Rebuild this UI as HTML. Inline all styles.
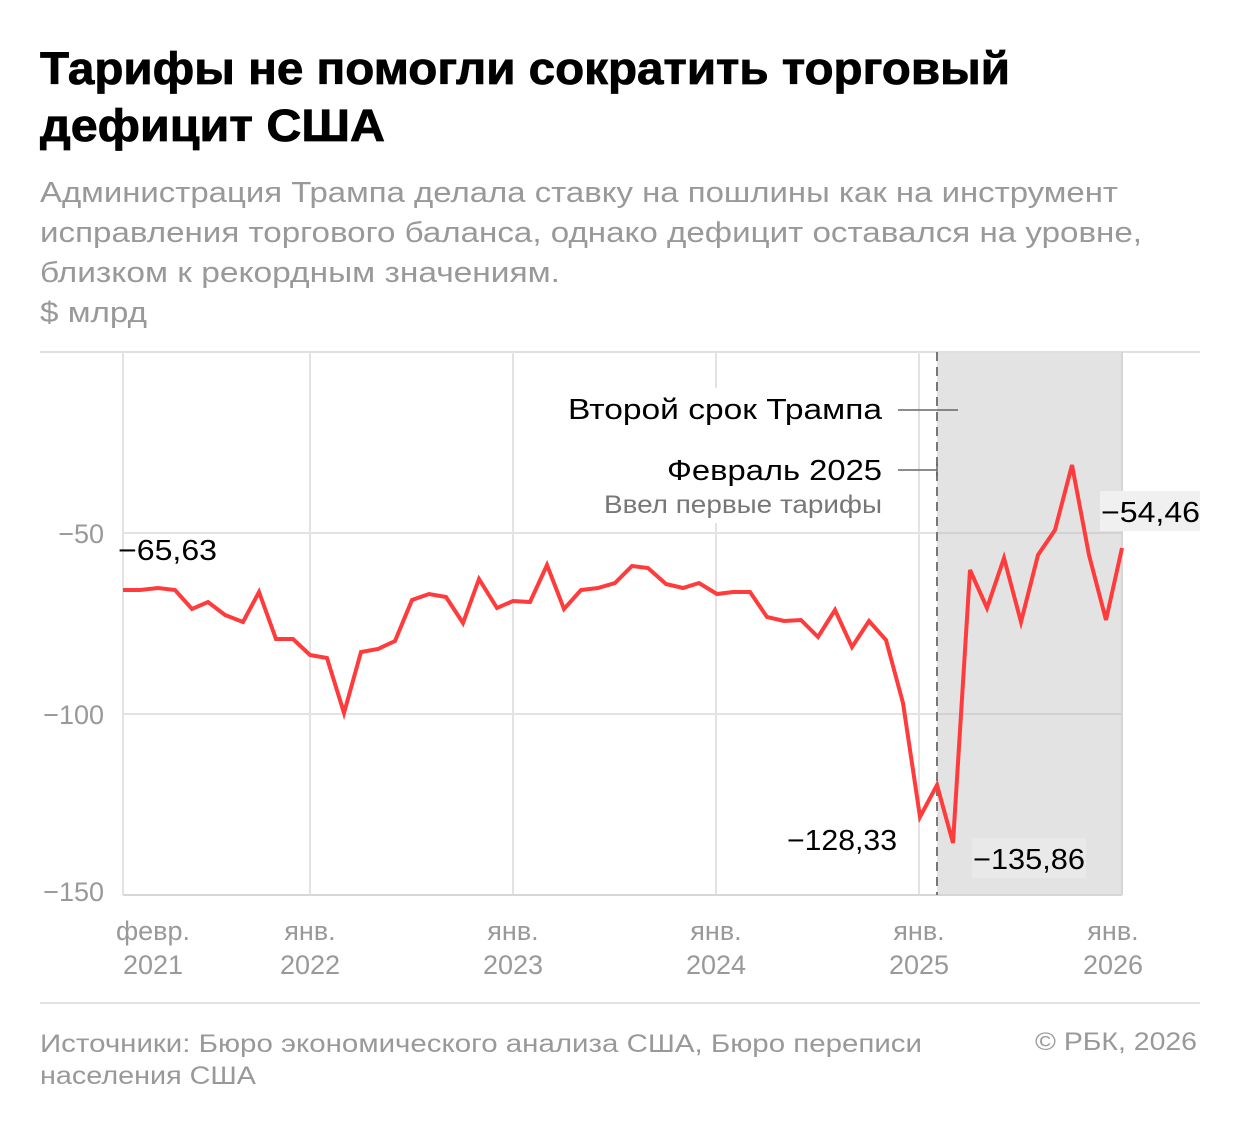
<!DOCTYPE html>
<html><head><meta charset="utf-8"><style>
html,body{margin:0;padding:0;background:#fff;}
svg{display:block;font-family:"Liberation Sans","DejaVu Sans",sans-serif;}
</style></head><body>
<svg width="1240" height="1132" viewBox="0 0 1240 1132" xmlns="http://www.w3.org/2000/svg">
<g font-size="45" font-weight="bold" fill="#000" stroke="#000" stroke-width="0.8" lengthAdjust="spacingAndGlyphs">
<text x="40" y="84" textLength="970" lengthAdjust="spacingAndGlyphs">Тарифы не помогли сократить торговый</text>
<text x="40" y="141" textLength="345" lengthAdjust="spacingAndGlyphs">дефицит США</text>
</g>
<g font-size="29" fill="#999">
<text x="40" y="202" textLength="1078" lengthAdjust="spacingAndGlyphs">Администрация Трампа делала ставку на пошлины как на инструмент</text>
<text x="40" y="242" textLength="1102" lengthAdjust="spacingAndGlyphs">исправления торгового баланса, однако дефицит оставался на уровне,</text>
<text x="40" y="282" textLength="520" lengthAdjust="spacingAndGlyphs">близком к рекордным значениям.</text>
<text x="40" y="322" textLength="107" lengthAdjust="spacingAndGlyphs">$ млрд</text>
</g>
<rect x="937" y="352" width="185" height="543" fill="#e3e3e3"/>
<line x1="40" y1="352" x2="1200" y2="352" stroke="#e0e0e0" stroke-width="2"/>
<g stroke="#e3e3e3" stroke-width="2">
<line x1="123" y1="352" x2="123" y2="895"/>
<line x1="310" y1="352" x2="310" y2="895"/>
<line x1="513" y1="352" x2="513" y2="895"/>
<line x1="716" y1="352" x2="716" y2="895"/>
<line x1="919" y1="352" x2="919" y2="895"/>
<line x1="1122" y1="352" x2="1122" y2="895" stroke="#d6d6d6"/>
<line x1="123" y1="533" x2="1122" y2="533"/>
<line x1="123" y1="714" x2="1122" y2="714"/>
</g>
<line x1="937" y1="533" x2="1122" y2="533" stroke="#d2d2d2" stroke-width="2"/>
<line x1="937" y1="714" x2="1122" y2="714" stroke="#d2d2d2" stroke-width="2"/>
<line x1="123" y1="895" x2="1122" y2="895" stroke="#d6d6d6" stroke-width="2"/>
<line x1="937" y1="352" x2="937" y2="895" stroke="#777" stroke-width="2" stroke-dasharray="9,6"/>
<g font-size="27" fill="#999" text-anchor="end">
<text x="104" y="543">−50</text>
<text x="104" y="724">−100</text>
<text x="104" y="901">−150</text>
</g>
<g font-size="27" fill="#999" text-anchor="middle">
<text x="153" y="940">февр.</text><text x="153" y="974">2021</text>
<text x="310" y="940">янв.</text><text x="310" y="974">2022</text>
<text x="513" y="940">янв.</text><text x="513" y="974">2023</text>
<text x="716" y="940">янв.</text><text x="716" y="974">2024</text>
<text x="919" y="940">янв.</text><text x="919" y="974">2025</text>
<text x="1113" y="940">янв.</text><text x="1113" y="974">2026</text>
</g>
<rect x="560" y="388" width="330" height="135" fill="#fff"/>
<g font-size="29" fill="#000">
<text x="568" y="419" textLength="314" lengthAdjust="spacingAndGlyphs">Второй срок Трампа</text>
<text x="667" y="480" textLength="215" lengthAdjust="spacingAndGlyphs">Февраль 2025</text>
</g>
<text x="604" y="513" font-size="25" fill="#777" textLength="278" lengthAdjust="spacingAndGlyphs">Ввел первые тарифы</text>
<line x1="898" y1="410" x2="958" y2="410" stroke="#666" stroke-width="1.5"/>
<line x1="898" y1="470" x2="937" y2="470" stroke="#666" stroke-width="1.5"/>
<line x1="937" y1="464" x2="937" y2="476" stroke="#666" stroke-width="1.5"/>
<polyline fill="none" stroke="#ff3b3b" stroke-width="4" stroke-linejoin="miter" points="123,590 140,590 158,588 175,590 192,609 208,602 225,615 243,622 259,592 276,639 293,639 310,655 327,658 344,713 361,652 378,649 395,641 412,600 429,594 446,597 463,623 479,579 497,608 513,601 530,602 547,565 564,609 581,590 598,588 615,583 632,566 648,568 666,584 683,588 699,583 717,594 733,592 750,592 767,617 784,621 801,620 818,637 835,610 852,647 869,621 886,640 903,703 920,817 937,785 953,843 970,570 987,608 1004,558 1021,622 1038,555 1055,530 1072,465 1089,555 1106,620 1122,548"/>
<text x="118" y="560" font-size="29" fill="#000" textLength="99" lengthAdjust="spacingAndGlyphs">−65,63</text>
<text x="787" y="850" font-size="29" fill="#000" textLength="110" lengthAdjust="spacingAndGlyphs">−128,33</text>
<rect x="972" y="838" width="114" height="40" fill="#e9e9e9"/>
<text x="973" y="869" font-size="29" fill="#000" textLength="112" lengthAdjust="spacingAndGlyphs">−135,86</text>
<rect x="1100" y="491" width="100" height="40" fill="#f0f0f0"/>
<text x="1101" y="522" font-size="29" fill="#000" textLength="99" lengthAdjust="spacingAndGlyphs">−54,46</text>
<line x1="40" y1="1003" x2="1200" y2="1003" stroke="#e3e3e3" stroke-width="2"/>
<g font-size="25" fill="#999">
<text x="40" y="1052" textLength="882" lengthAdjust="spacingAndGlyphs">Источники: Бюро экономического анализа США, Бюро переписи</text>
<text x="40" y="1084" textLength="216" lengthAdjust="spacingAndGlyphs">населения США</text>
<text x="1035" y="1050" textLength="162" lengthAdjust="spacingAndGlyphs">© РБК, 2026</text>
</g>
</svg>
</body></html>
